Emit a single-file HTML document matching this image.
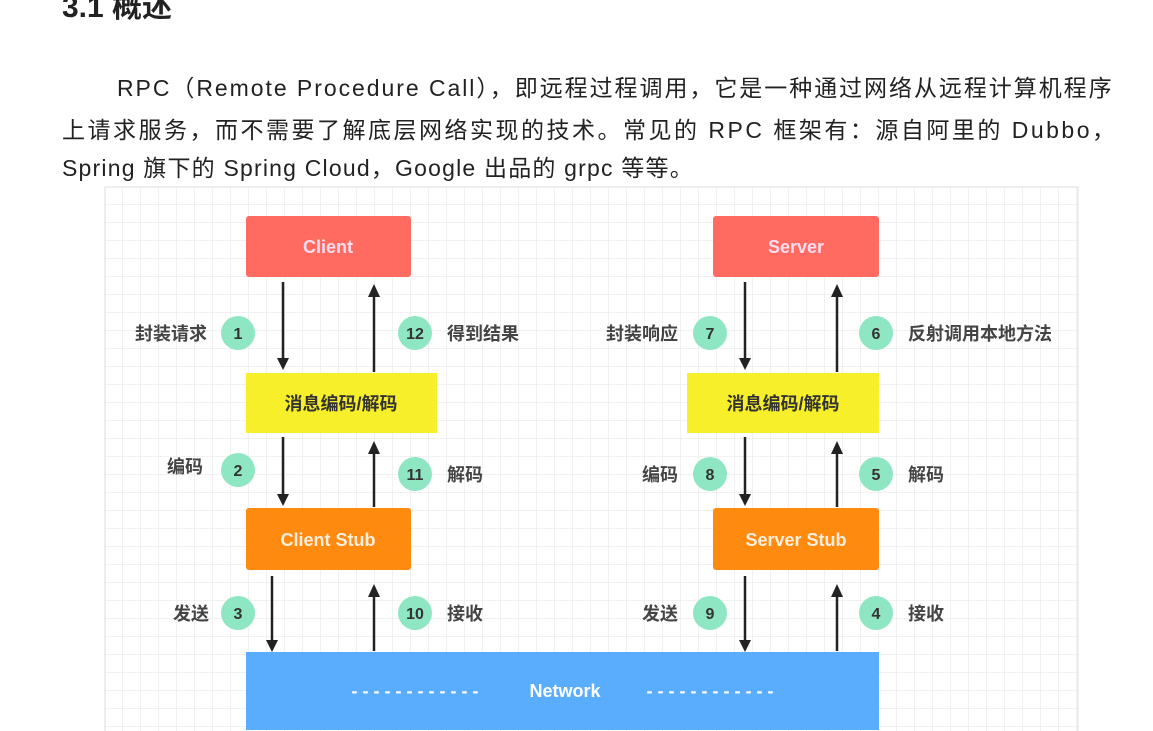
<!DOCTYPE html>
<html><head><meta charset="utf-8"><style>
body{margin:0;width:1153px;height:731px;overflow:hidden;background:#fff;font-family:"Liberation Sans","Noto Sans CJK SC",sans-serif;}
.t{position:absolute;font-size:23px;color:#222;white-space:nowrap;letter-spacing:2.3px}
</style></head><body>
<div class="t" style="left:62px;top:-18px;font-size:30px;font-weight:bold;letter-spacing:0">3.1 概述</div>
<div class="t" style="left:117px;top:69px;letter-spacing:1.95px">RPC（Remote Procedure Call），即远程过程调用，它是一种通过网络从远程计算机程序</div>
<div class="t" style="left:62px;top:111px;letter-spacing:2.5px">上请求服务，而不需要了解底层网络实现的技术。常见的 RPC 框架有：源自阿里的 Dubbo，</div>
<div class="t" style="left:62px;top:149px;letter-spacing:1.2px">Spring 旗下的 Spring Cloud，Google 出品的 grpc 等等。</div>
<svg style="position:absolute;left:0;top:0" width="1153" height="731" font-family="Liberation Sans, Noto Sans CJK SC, sans-serif">
<defs>
<pattern id="g" x="105" y="187" width="18" height="18" patternUnits="userSpaceOnUse">
<path d="M18 0V18H0" fill="none" stroke="#e3e3e3" stroke-width="1"/></pattern>
</defs>
<rect x="105" y="187" width="973" height="560" fill="url(#g)" stroke="#ddd"/>
<g fill="#fff" font-size="18" text-anchor="middle" font-weight="bold">
<rect x="246" y="216" width="165" height="61" rx="3" fill="#ff6b61"/><text x="328" y="253" fill="#fde">Client</text>
<rect x="713" y="216" width="166" height="61" rx="3" fill="#ff6b61"/><text x="796" y="253" fill="#fde">Server</text>
<rect x="246" y="373" width="191" height="60" fill="#f7ef2a"/><text x="341" y="410" fill="#333">消息编码/解码</text>
<rect x="687" y="373" width="192" height="60" fill="#f7ef2a"/><text x="783" y="410" fill="#333">消息编码/解码</text>
<rect x="246" y="508" width="165" height="62" rx="3" fill="#ff8a10"/><text x="328" y="546" fill="#fed">Client Stub</text>
<rect x="713" y="508" width="166" height="62" rx="3" fill="#ff8a10"/><text x="796" y="546" fill="#fed">Server Stub</text>
<rect x="246" y="652" width="633" height="78" fill="#5aacfc"/><text x="565" y="697">Network</text>
<text x="415" y="697">- - - - - - - - - - - -</text><text x="710" y="697">- - - - - - - - - - - -</text>
</g>
<g stroke="#222" stroke-width="2.5">
<path d="M283 282V360M283 437V496M272 576V642M745 282V360M745 437V496M745 576V642"/>
<path d="M374 372V295M374 507V452M374 651V595M837 372V295M837 507V452M837 651V595"/>
</g>
<g fill="#222">
<path d="M277 358h12l-6 12zM277 494h12l-6 12zM266 640h12l-6 12zM739 358h12l-6 12zM739 494h12l-6 12zM739 640h12l-6 12z"/>
<path d="M368 297h12l-6-13zM368 454h12l-6-13zM368 597h12l-6-13zM831 297h12l-6-13zM831 454h12l-6-13zM831 597h12l-6-13z"/>
</g>
<g fill="#8ee6c3">
<circle cx="238" cy="333" r="17"/><circle cx="415" cy="333" r="17"/><circle cx="710" cy="333" r="17"/><circle cx="876" cy="333" r="17"/>
<circle cx="238" cy="470" r="17"/><circle cx="415" cy="474" r="17"/><circle cx="710" cy="474" r="17"/><circle cx="876" cy="474" r="17"/>
<circle cx="238" cy="613" r="17"/><circle cx="415" cy="613" r="17"/><circle cx="710" cy="613" r="17"/><circle cx="876" cy="613" r="17"/>
</g>
<g fill="#333" font-size="16" text-anchor="middle" font-weight="bold">
<text x="238" y="339">1</text><text x="415" y="339">12</text><text x="710" y="339">7</text><text x="876" y="339">6</text>
<text x="238" y="476">2</text><text x="415" y="480">11</text><text x="710" y="480">8</text><text x="876" y="480">5</text>
<text x="238" y="619">3</text><text x="415" y="619">10</text><text x="710" y="619">9</text><text x="876" y="619">4</text>
</g>
<g fill="#444" font-size="18" font-weight="bold">
<text x="135" y="340">封装请求</text><text x="447" y="340">得到结果</text>
<text x="606" y="340">封装响应</text><text x="908" y="340">反射调用本地方法</text>
<text x="167" y="473">编码</text><text x="447" y="481">解码</text>
<text x="642" y="481">编码</text><text x="908" y="481">解码</text>
<text x="173" y="620">发送</text><text x="447" y="620">接收</text>
<text x="642" y="620">发送</text><text x="908" y="620">接收</text>
</g>
</svg>
</body></html>
